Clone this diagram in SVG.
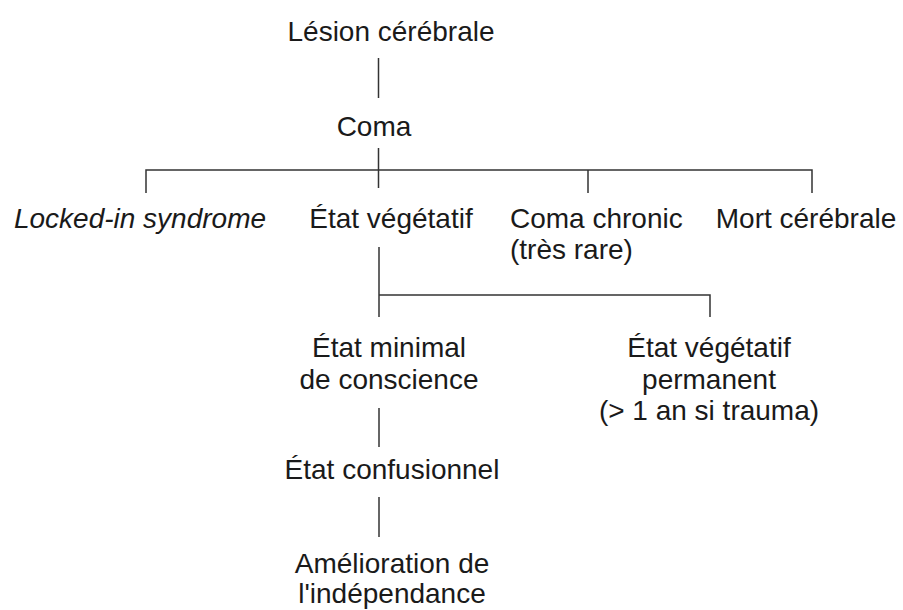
<svg xmlns="http://www.w3.org/2000/svg" width="903" height="610" viewBox="0 0 903 610">
<style>
text{font-family:"Liberation Sans",Arial,sans-serif;font-size:28px;fill:#1a1a1a;text-anchor:middle}
.l{stroke:#333;stroke-width:1.5;fill:none}
</style>
<rect width="903" height="610" fill="#fff"/>
<g id="connectors">
<path class="l" d="M378.5 58V98"/>
<path class="l" d="M378.5 148V188M146 193V170H812V193M588 170V193"/>
<path class="l" d="M379 247V317M379 295H710V317"/>
<path class="l" d="M379 408V447"/>
<path class="l" d="M379 497V537"/>
</g>
<g id="lesion"><text x="391" y="41">Lésion cérébrale</text></g>
<g id="coma"><text x="374" y="136">Coma</text></g>
<g id="locked"><text x="140" y="228" font-style="italic">Locked-in syndrome</text></g>
<g id="vegetatif"><text x="391" y="228">État végétatif</text></g>
<g id="chronic"><text x="510" y="228" style="text-anchor:start">Coma chronic</text><text x="510" y="259" style="text-anchor:start">(très rare)</text></g>
<g id="mort"><text x="806" y="228">Mort cérébrale</text></g>
<g id="minimal"><text x="389" y="357">État minimal</text><text x="389" y="389">de conscience</text></g>
<g id="permanent"><text x="709" y="357">État végétatif</text><text x="709" y="389">permanent</text><text x="709" y="420">(&gt; 1 an si trauma)</text></g>
<g id="confusionnel"><text x="392" y="479">État confusionnel</text></g>
<g id="amelioration"><text x="392" y="573">Amélioration de</text><text x="392" y="603">l'indépendance</text></g>
</svg>
